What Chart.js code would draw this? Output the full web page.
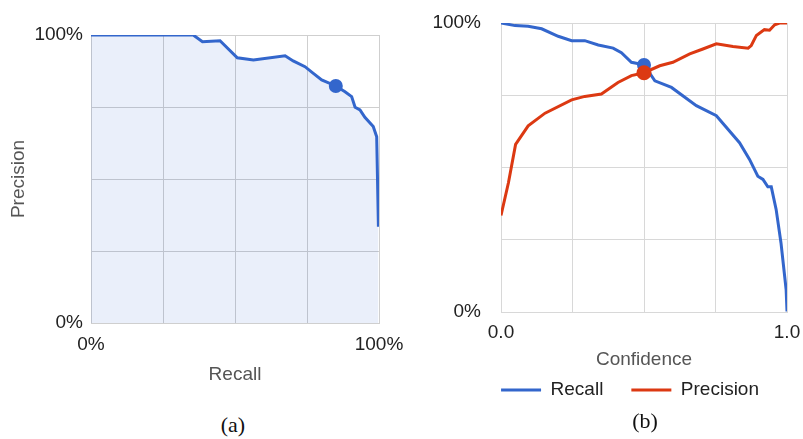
<!DOCTYPE html>
<html>
<head>
<meta charset="utf-8">
<script src="https://cdn.jsdelivr.net/npm/chart.js@4.4.1/dist/chart.umd.min.js"></script>
<style>
  html, body { margin: 0; padding: 0; background: #fff; }
  body { width: 803px; height: 439px; position: relative; overflow: hidden; }
  .box { position: absolute; top: 0; }
  #boxA { left: 0; width: 420px; height: 400px; }
  #boxB { left: 420px; width: 383px; height: 410px; }
  .caption {
    position: absolute; width: 60px; text-align: center; color: #111;
    font-family: "Liberation Serif", "Times New Roman", serif;
    font-size: 22px; line-height: 22px;
  }
</style>
</head>
<body>
<div class="box" id="boxA"><canvas id="prChart"></canvas></div>
<div class="box" id="boxB"><canvas id="confChart"></canvas></div>
<div class="caption" style="left:203px; top:414px;">(a)</div>
<div class="caption" style="left:615px; top:410px;">(b)</div>
<script>
// (a) precision / recall curve, values in %
const recallA    = [0, 35.5, 38.7, 44.8, 50.8, 56.4, 67.4, 70.2, 74.3, 77.2, 80.1, 85.0, 88.2, 90.5, 91.7, 93.4, 95.1, 98.0, 99.2, 99.8];
const precisionA = [100, 100, 97.7, 98.0, 92.1, 91.3, 92.8, 91.0, 89.0, 86.7, 84.4, 82.3, 80.3, 78.6, 74.9, 74.0, 71.4, 68.2, 64.7, 33.4];
const markerRecallA = [85.0];
const markerPrecisionA = [82.3];
const pctLabels = [0, 100];

// (b) recall and precision against confidence threshold
const recallConf = [0, 0.049, 0.095, 0.142, 0.2, 0.247, 0.293, 0.34, 0.392, 0.421, 0.456, 0.5, 0.538, 0.596, 0.683, 0.753, 0.834, 0.869, 0.898, 0.916, 0.933, 0.945, 0.962, 0.979, 0.997, 1.0];
const recallB    = [100, 99.1, 98.9, 98.0, 95.4, 93.9, 93.9, 92.4, 91.3, 89.7, 86.4, 85.5, 80.0, 77.7, 71.4, 67.9, 58.6, 52.8, 47.0, 45.9, 43.3, 43.3, 35.5, 23.9, 7.7, 0.2];
const precisionConf = [0, 0.026, 0.051, 0.095, 0.154, 0.247, 0.293, 0.351, 0.409, 0.456, 0.5, 0.555, 0.601, 0.66, 0.706, 0.753, 0.811, 0.864, 0.875, 0.893, 0.921, 0.939, 0.957, 0.974, 1.0];
const precisionB    = [33.4, 44.7, 58.0, 64.4, 68.8, 73.4, 74.6, 75.4, 79.4, 81.8, 82.8, 85.2, 86.4, 89.3, 91.0, 92.8, 91.9, 91.3, 92.2, 95.7, 97.7, 97.5, 99.4, 100, 100];
const markerConf = [0.5];
const markerRecallB = [85.5];
const markerPrecisionB = [82.8];
const confLabels = [0, 1];

const BLUE = '#3366cc';
const RED = '#dc3912';
const GRID = '#cfcfcf';

Chart.defaults.font.family = '"Liberation Sans", Arial, sans-serif';
Chart.defaults.font.size = 19;

const pts = (xs, ys) => xs.map((x, i) => ({x: x, y: ys[i]}));

// fixed axis sizes, and no extra room reserved for overhanging end labels
const fixX = h => s => { s.height = h; s.paddingLeft = 0; s.paddingRight = 0; };
const fixY = w => s => { s.width = w; s.paddingTop = 0; s.paddingBottom = 0; };

new Chart(document.getElementById('prChart'), {
    type: 'line',
    data: {
        datasets: [{
            data: pts(markerRecallA, markerPrecisionA),
            showLine: false,
            pointRadius: 7,
            pointBackgroundColor: BLUE,
            pointBorderWidth: 0,
            order: 0
        }, {
            data: pts(recallA, precisionA),
            borderColor: BLUE,
            borderWidth: 3,
            backgroundColor: 'rgba(51, 102, 204, 0.1)',
            fill: 'origin',
            pointRadius: 0,
            tension: 0,
            order: 1
        }]
    },
    options: {
        responsive: true,
        maintainAspectRatio: false,
        animation: false,
        events: [],
        layout: { padding: { top: 35, right: 41, bottom: 14, left: 0 } },
        plugins: { legend: { display: false }, tooltip: { enabled: false } },
        scales: {
            x: {
                type: 'linear', min: 0, max: 100,
                ticks: {
                    stepSize: 25, padding: 10, color: '#222', maxRotation: 0, autoSkip: false,
                    callback: v => pctLabels.includes(v) ? v + '%' : ''
                },
                grid: { color: GRID, drawTicks: false },
                border: { color: GRID },
                title: { display: true, text: 'Recall', color: '#555', padding: 0 },
                afterFit: fixX(63)
            },
            y: {
                min: 0, max: 100,
                ticks: {
                    stepSize: 25, padding: 8, color: '#222', autoSkip: false,
                    callback: v => pctLabels.includes(v) ? v + '%' : ''
                },
                grid: { color: GRID, drawTicks: false },
                border: { color: GRID },
                title: { display: true, text: 'Precision', color: '#555', padding: { top: 7, bottom: 0 } },
                afterFit: fixY(91)
            }
        }
    }
});

new Chart(document.getElementById('confChart'), {
    type: 'line',
    data: {
        datasets: [{
            label: 'Recall',
            data: pts(recallConf, recallB),
            borderColor: BLUE,
            borderWidth: 3,
            pointRadius: 0,
            pointBorderColor: BLUE,
            pointBorderWidth: 3,
            tension: 0,
            fill: false,
            order: 3
        }, {
            label: 'Precision',
            data: pts(precisionConf, precisionB),
            borderColor: RED,
            borderWidth: 3,
            pointRadius: 0,
            pointBorderColor: RED,
            pointBorderWidth: 3,
            tension: 0,
            fill: false,
            order: 2
        }, {
            data: pts(markerConf, markerRecallB),
            showLine: false,
            pointRadius: 7,
            pointBackgroundColor: BLUE,
            pointBorderWidth: 0,
            order: 1
        }, {
            data: pts(markerConf, markerPrecisionB),
            showLine: false,
            pointRadius: 7.5,
            pointBackgroundColor: RED,
            pointBorderWidth: 0,
            order: 0
        }]
    },
    options: {
        responsive: true,
        maintainAspectRatio: false,
        animation: false,
        events: [],
        layout: { padding: { top: 23, right: 16, bottom: 0.5, left: 0 } },
        plugins: {
            tooltip: { enabled: false },
            legend: {
                position: 'bottom',
                align: 'end',
                labels: {
                    usePointStyle: true,
                    pointStyle: 'line',
                    pointStyleWidth: 40,
                    padding: 28,
                    color: '#222',
                    filter: item => !!item.text,
                    sort: (a, b) => a.datasetIndex - b.datasetIndex
                }
            }
        },
        scales: {
            x: {
                type: 'linear', min: 0, max: 1,
                ticks: {
                    stepSize: 0.25, padding: 9, color: '#222', maxRotation: 0, autoSkip: false,
                    callback: v => confLabels.includes(v) ? v.toFixed(1) : ''
                },
                grid: { color: '#d8d8d8', drawTicks: false },
                border: { color: '#d8d8d8' },
                title: { display: true, text: 'Confidence', color: '#555', padding: { top: 0, bottom: -19 } },
                afterFit: fixX(40.5)
            },
            y: {
                min: 0, max: 100,
                ticks: {
                    stepSize: 25, padding: 20, color: '#222', autoSkip: false,
                    callback: v => pctLabels.includes(v) ? v + '%' : ''
                },
                grid: { color: '#d8d8d8', drawTicks: false },
                border: { color: '#d8d8d8' },
                afterFit: fixY(81)
            }
        }
    }
});
</script>
</body>
</html>
